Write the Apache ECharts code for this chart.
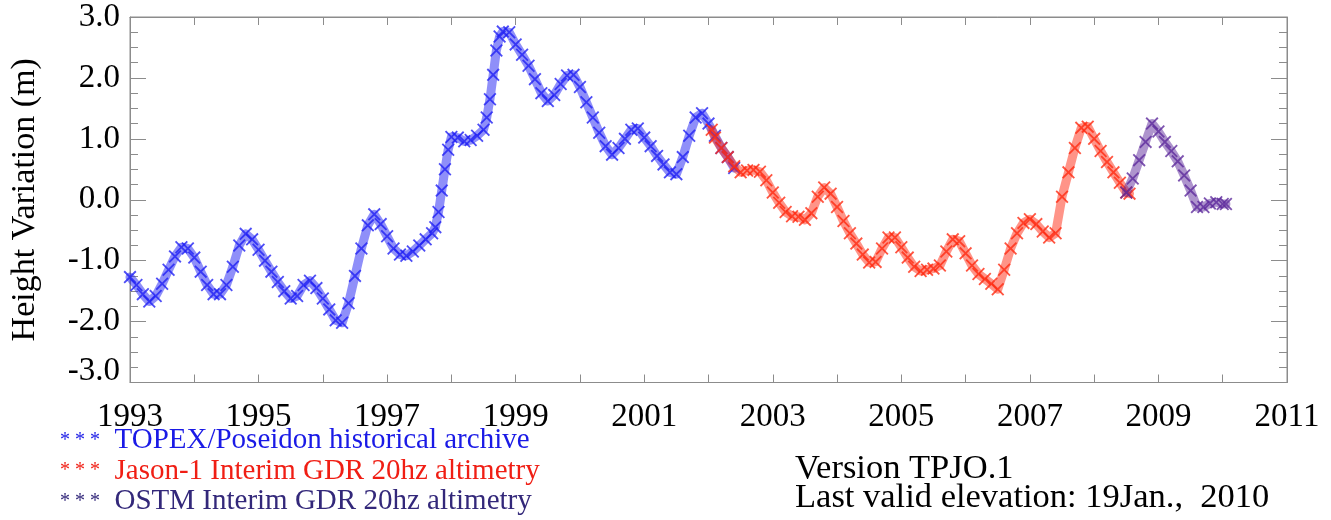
<!DOCTYPE html>
<html lang="en">
<head>
    <meta charset="UTF-8" />
    <title>Height Variation</title>
    <script src="https://cdn.jsdelivr.net/npm/echarts@6/dist/echarts.min.js"></script>
    <style>
        html, body { margin: 0; padding: 0; background: #fff; }
        #main { width: 1331px; height: 520px; }
    </style>
</head>
<body>
    <div id="main"></div>
    <script type="text/javascript">
        // TOPEX/Poseidon (blue)
        const topexYears = [
            1993.0, 1993.1, 1993.2, 1993.3, 1993.4, 1993.5, 1993.6, 1993.7, 1993.8, 1993.9,
            1994.0, 1994.1, 1994.2, 1994.3, 1994.4, 1994.5, 1994.6, 1994.7, 1994.8, 1994.9,
            1995.0, 1995.1, 1995.2, 1995.3, 1995.4, 1995.5, 1995.6, 1995.7, 1995.8, 1995.9,
            1996.0, 1996.1, 1996.2, 1996.3, 1996.4, 1996.5, 1996.6, 1996.7, 1996.8, 1996.9,
            1997.0, 1997.1, 1997.2, 1997.3, 1997.4, 1997.5, 1997.6, 1997.7, 1997.75, 1997.8,
            1997.85, 1997.9, 1997.95, 1998.0, 1998.1, 1998.2, 1998.3, 1998.4, 1998.5, 1998.55,
            1998.6, 1998.65, 1998.7, 1998.75, 1998.8, 1998.9, 1999.0, 1999.1, 1999.2, 1999.3,
            1999.4, 1999.5, 1999.6, 1999.7, 1999.8, 1999.9, 2000.0, 2000.1, 2000.2, 2000.3,
            2000.4, 2000.5, 2000.6, 2000.7, 2000.8, 2000.9, 2001.0, 2001.1, 2001.2, 2001.3,
            2001.4, 2001.5, 2001.6, 2001.7, 2001.8, 2001.9, 2002.0, 2002.1, 2002.2, 2002.3,
            2002.4
        ];
        const topexHeight = [
            -1.27, -1.40, -1.55, -1.67, -1.58, -1.38, -1.15, -0.93, -0.78, -0.80,
            -0.95, -1.18, -1.40, -1.55, -1.55, -1.40, -1.10, -0.75, -0.56, -0.65,
            -0.82, -1.00, -1.18, -1.35, -1.50, -1.62, -1.58, -1.40, -1.33, -1.45,
            -1.62, -1.80, -1.98, -2.02, -1.70, -1.25, -0.80, -0.42, -0.24, -0.40,
            -0.60, -0.80, -0.90, -0.92, -0.85, -0.75, -0.65, -0.55, -0.45, -0.20,
            0.15, 0.50, 0.82, 1.03, 1.02, 0.96, 0.98, 1.05, 1.15, 1.35,
            1.65, 2.05, 2.45, 2.68, 2.76, 2.75, 2.55, 2.38, 2.20, 1.98,
            1.75, 1.62, 1.72, 1.90, 2.04, 2.05, 1.85, 1.60, 1.35, 1.10,
            0.88, 0.74, 0.85, 1.00, 1.15, 1.17, 1.02, 0.88, 0.72, 0.58,
            0.45, 0.42, 0.70, 1.05, 1.35, 1.42, 1.25, 1.05, 0.85, 0.70,
            0.52
        ];

        // Jason-1 (red)
        const jasonYears = [
            2002.05, 2002.1, 2002.2, 2002.3, 2002.4, 2002.5, 2002.6, 2002.7, 2002.8, 2002.9,
            2003.0, 2003.1, 2003.2, 2003.3, 2003.4, 2003.5, 2003.6, 2003.7, 2003.8, 2003.9,
            2004.0, 2004.1, 2004.2, 2004.3, 2004.4, 2004.5, 2004.6, 2004.7, 2004.8, 2004.9,
            2005.0, 2005.1, 2005.2, 2005.3, 2005.4, 2005.5, 2005.6, 2005.7, 2005.8, 2005.9,
            2006.0, 2006.1, 2006.2, 2006.3, 2006.4, 2006.5, 2006.6, 2006.7, 2006.8, 2006.9,
            2007.0, 2007.1, 2007.2, 2007.3, 2007.4, 2007.5, 2007.6, 2007.7, 2007.8, 2007.9,
            2008.0, 2008.1, 2008.2, 2008.3, 2008.4, 2008.5, 2008.55
        ];
        const jasonHeight = [
            1.15, 1.02, 0.85, 0.70, 0.55, 0.45, 0.48, 0.49, 0.46, 0.32,
            0.12, -0.05, -0.20, -0.27, -0.28, -0.33, -0.22, 0.05, 0.20, 0.10,
            -0.12, -0.35, -0.55, -0.72, -0.90, -1.03, -1.02, -0.80, -0.62, -0.62,
            -0.78, -0.95, -1.10, -1.17, -1.15, -1.13, -1.08, -0.85, -0.65, -0.68,
            -0.88, -1.08, -1.22, -1.30, -1.38, -1.47, -1.15, -0.80, -0.55, -0.38,
            -0.32, -0.40, -0.52, -0.62, -0.55, 0.05, 0.45, 0.85, 1.18, 1.20,
            1.00, 0.80, 0.62, 0.45, 0.28, 0.12, 0.10
        ];

        // OSTM (purple)
        const ostmYears = [
            2008.5, 2008.6, 2008.7, 2008.8, 2008.9, 2009.0, 2009.1, 2009.2, 2009.3, 2009.4,
            2009.5, 2009.6, 2009.7, 2009.8, 2009.9, 2010.0, 2010.05
        ];
        const ostmHeight = [
            0.12, 0.35, 0.65, 0.95, 1.25, 1.12, 0.95, 0.80, 0.63, 0.40,
            0.15, -0.12, -0.12, -0.06, -0.04, -0.07, -0.07
        ];

        const yearTicks = [1993, 2011];
        const heightTicks = [-3, 3];

        const seriesNames = [
            "TOPEX/Poseidon historical archive",
            "Jason-1 Interim GDR 20hz altimetry",
            "OSTM Interim GDR 20hz altimetry"
        ];
        const seriesColors = ["#2020f4", "#ff2a12", "#5e2a9c"];
        const legendColors = ["#1a1ae6", "#f01e14", "#33287a"];

        const FONT = "Liberation Serif";
        // filled "x" cross used as plot symbol
        const X_SYMBOL = "path://M0,1L1,0L5,4L9,0L10,1L6,5L10,9L9,10L5,6L1,10L0,9L4,5Z";

        function makeSeries(name, years, heights, color, z) {
            return {
                name: name,
                type: "line",
                data: years.map((y, i) => [y, heights[i]]),
                symbol: X_SYMBOL,
                symbolSize: 13,
                itemStyle: { color: color, opacity: 0.8 },
                lineStyle: { color: color, width: 9, opacity: 0.5, cap: "round", join: "round" },
                z: z,
                animation: false
            };
        }

        const frameColor = "#8c8c8c";

        let options = {
            backgroundColor: "#ffffff",
            animation: false,
            grid: {
                left: 128, right: 44, top: 17, bottom: 137.5,
                show: true, borderColor: frameColor, borderWidth: 1
            },
            xAxis: [
                {
                    type: "value", min: yearTicks[0], max: yearTicks[1], interval: 1,
                    position: "bottom",
                    axisLine: { show: true, onZero: false, lineStyle: { color: frameColor } },
                    axisTick: { inside: true, length: 8, lineStyle: { color: frameColor } },
                    splitLine: { show: false },
                    axisLabel: {
                        margin: 18, color: "#000", fontFamily: FONT, fontSize: 33,
                        formatter: (v) => ((v - 1993) % 2 === 0 ? String(v) : "")
                    }
                },
                {
                    type: "value", min: yearTicks[0], max: yearTicks[1], interval: 1,
                    position: "top",
                    axisLine: { show: true, onZero: false, lineStyle: { color: frameColor } },
                    axisTick: { inside: true, length: 8, lineStyle: { color: frameColor } },
                    splitLine: { show: false },
                    axisLabel: { show: false }
                }
            ],
            yAxis: [
                {
                    type: "value", min: heightTicks[0], max: heightTicks[1], interval: 1,
                    position: "left",
                    name: "Height Variation (m)",
                    nameLocation: "middle",
                    nameRotate: 90,
                    nameGap: 88,
                    nameTextStyle: { color: "#000", fontFamily: FONT, fontSize: 34 },
                    axisLine: { show: true, onZero: false, lineStyle: { color: frameColor } },
                    axisTick: { inside: true, length: 16, lineStyle: { color: frameColor } },
                    minorTick: { show: true, splitNumber: 4, length: 8, lineStyle: { color: frameColor } },
                    splitLine: { show: false },
                    axisLabel: {
                        margin: 10, color: "#000", fontFamily: FONT, fontSize: 33,
                        formatter: (v) => (v === -3 ? "{lo|-3.0}" : v.toFixed(1)),
                        rich: { lo: { fontFamily: FONT, fontSize: 33, color: "#000", padding: [0, 0, 22, 0] } }
                    }
                },
                {
                    type: "value", min: heightTicks[0], max: heightTicks[1], interval: 1,
                    position: "right",
                    axisLine: { show: true, onZero: false, lineStyle: { color: frameColor } },
                    axisTick: { inside: true, length: 16, lineStyle: { color: frameColor } },
                    minorTick: { show: true, splitNumber: 4, length: 8, lineStyle: { color: frameColor } },
                    splitLine: { show: false },
                    axisLabel: { show: false }
                }
            ],
            legend: {
                orient: "vertical",
                left: 55, top: 426,
                height: 100,
                icon: "none",
                itemWidth: 0,
                itemGap: 1.5,
                padding: 0,
                selectedMode: false,
                data: seriesNames.map((n, i) => ({ name: n, textStyle: { color: legendColors[i] } })),
                formatter: (name) => "{s|* * *}  " + name,
                textStyle: {
                    fontFamily: FONT, fontSize: 29,
                    rich: { s: { fontFamily: FONT, fontSize: 20 } }
                }
            },
            graphic: [
                {
                    type: "text", left: 795, top: 451,
                    style: { text: "Version TPJO.1", fill: "#000", font: "34.5px " + FONT }
                },
                {
                    type: "text", left: 795, top: 480,
                    style: { text: "Last valid elevation: 19Jan.,  2010", fill: "#000", font: "34.5px " + FONT }
                }
            ],
            series: [
                makeSeries(seriesNames[0], topexYears, topexHeight, seriesColors[0], 2),
                makeSeries(seriesNames[1], jasonYears, jasonHeight, seriesColors[1], 3),
                makeSeries(seriesNames[2], ostmYears, ostmHeight, seriesColors[2], 4)
            ]
        };

        let myChart = echarts.init(document.getElementById("main"));
        myChart.setOption(options);
    </script>
</body>
</html>
